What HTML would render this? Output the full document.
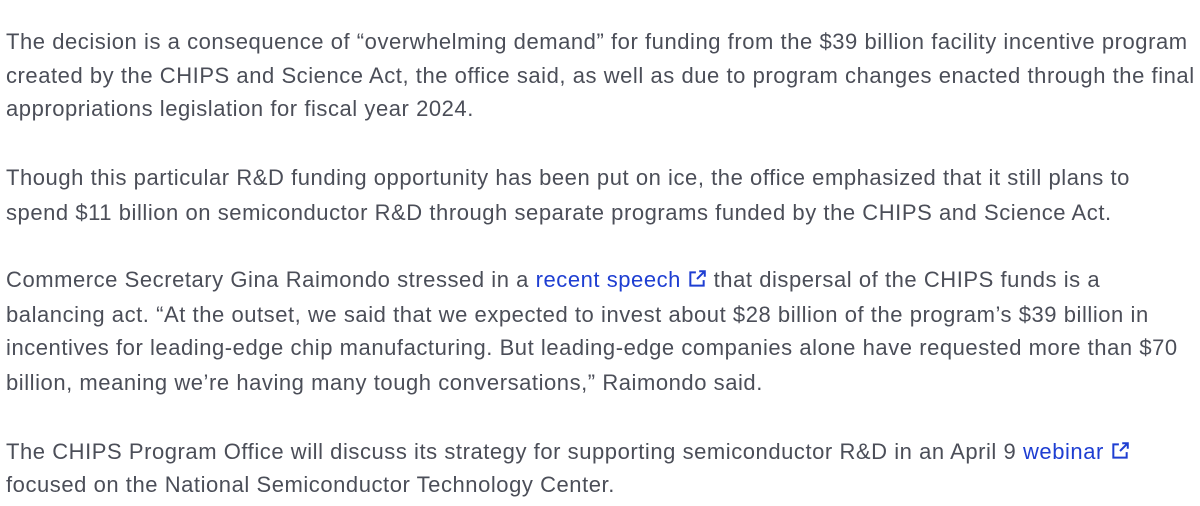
<!DOCTYPE html>
<html><head><meta charset="utf-8"><style>
html,body{margin:0;padding:0;background:#fff;width:1200px;height:506px;overflow:hidden}
.l{position:absolute;left:6px;font:22px/34px "Liberation Sans",Arial,sans-serif;letter-spacing:0.55px;color:#4b4e58;white-space:nowrap}
a{color:#1e3ed2;text-decoration:none}
svg{vertical-align:-2px;margin-left:6px}
</style></head><body>
<div>
<div class="l" style="top:25px">The decision is a consequence of “overwhelming demand” for funding from the $39 billion facility incentive program</div>
<div class="l" style="top:59px">created by the CHIPS and Science Act, the office said, as well as due to program changes enacted through the final</div>
<div class="l" style="top:92px">appropriations legislation for fiscal year 2024.</div>
</div>
<div>
<div class="l" style="top:161px">Though this particular R&amp;D funding opportunity has been put on ice, the office emphasized that it still plans to</div>
<div class="l" style="top:196px">spend $11 billion on semiconductor R&amp;D through separate programs funded by the CHIPS and Science Act.</div>
</div>
<div>
<div class="l" style="top:263px">Commerce Secretary Gina Raimondo stressed in a <a href="#">recent speech<svg width="20" height="20" viewBox="0 0 18 18" fill="none" stroke="#1e3ed2" stroke-width="1.8"><path d="M8 3H3v12h12v-5"/><path d="M9 9l7-7M11 2h5v5"/></svg></a> that dispersal of the CHIPS funds is a</div>
<div class="l" style="top:298px">balancing act. “At the outset, we said that we expected to invest about $28 billion of the program’s $39 billion in</div>
<div class="l" style="top:331px">incentives for leading-edge chip manufacturing. But leading-edge companies alone have requested more than $70</div>
<div class="l" style="top:366px">billion, meaning we’re having many tough conversations,” Raimondo said.</div>
</div>
<div>
<div class="l" style="top:435px">The CHIPS Program Office will discuss its strategy for supporting semiconductor R&amp;D in an April 9 <a href="#">webinar<svg width="20" height="20" viewBox="0 0 18 18" fill="none" stroke="#1e3ed2" stroke-width="1.8"><path d="M8 3H3v12h12v-5"/><path d="M9 9l7-7M11 2h5v5"/></svg></a></div>
<div class="l" style="top:468px">focused on the National Semiconductor Technology Center.</div>
</div>
</body></html>
